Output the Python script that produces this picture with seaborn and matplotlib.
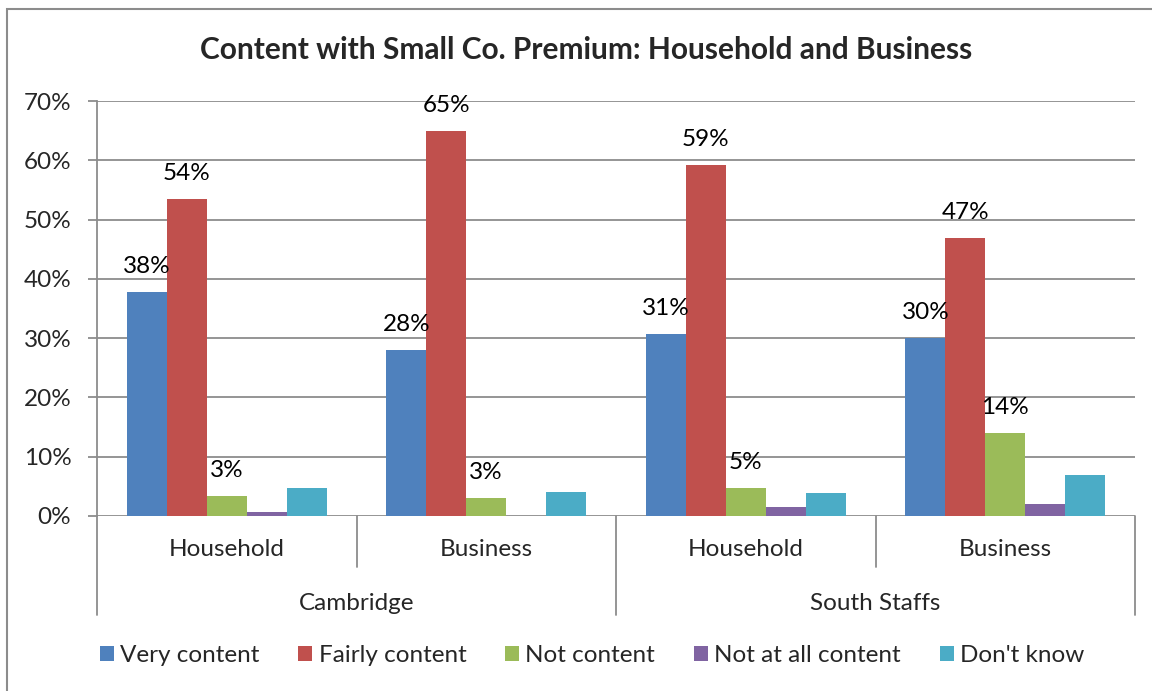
import matplotlib
matplotlib.use("Agg")
import matplotlib.pyplot as plt
from matplotlib.patches import Rectangle, Patch
import seaborn as sns
import pandas as pd

# Survey results: share of respondents by contentment level
regions = ["Cambridge", "South Staffs"]
segments = ["Household", "Business", "Household", "Business"]
series = ["Very content", "Fairly content", "Not content", "Not at all content", "Don't know"]
very_content = [0.378, 0.280, 0.307, 0.300]
fairly_content = [0.535, 0.649, 0.592, 0.469]
not_content = [0.034, 0.030, 0.047, 0.140]
not_at_all = [0.007, 0.000, 0.015, 0.020]
dont_know = [0.047, 0.040, 0.039, 0.069]
labels_very = ["38%", "28%", "31%", "30%"]
labels_fairly = ["54%", "65%", "59%", "47%"]
labels_not = ["3%", "3%", "5%", "14%"]
colors = ["#4F81BD", "#C0504D", "#9BBB59", "#8064A2", "#4BACC6"]

values = [very_content, fairly_content, not_content, not_at_all, dont_know]
group_ids = ["g0", "g1", "g2", "g3"]
rows = []
for s, vals in zip(series, values):
    for g, v in zip(group_ids, vals):
        rows.append({"group": g, "series": s, "value": v})
df = pd.DataFrame(rows)

sns.set_style("white")
plt.rcParams["font.family"] = ["Lato", "DejaVu Sans"]

FS = 17.5
W, H = 1152, 691
fig = plt.figure(figsize=(W / 100, H / 100), dpi=100)
ax = fig.add_axes([97 / W, 1 - 516 / H, (1135 - 97) / W, (516 - 101) / H])

sns.barplot(data=df, x="group", y="value", hue="series", hue_order=series,
            order=group_ids, palette=colors, saturation=1, width=0.77,
            linewidth=0, ax=ax, legend=False)

ax.set_xlim(-0.5, 3.5)
ax.set_ylim(0, 0.70)
ax.set_yticks([i / 10 for i in range(8)])
ax.set_yticklabels([f"{i * 10}%" for i in range(8)], fontsize=FS)
ax.set_xticks([])
ax.set_xlabel("")
ax.set_ylabel("")
grid_c = "#8C8C8C"
ax.grid(axis="y", color=grid_c, linewidth=1.3)
ax.set_axisbelow(True)
for side in ["top", "right", "bottom"]:
    ax.spines[side].set_visible(False)
ax.spines["left"].set_color(grid_c)
ax.spines["left"].set_linewidth(1.3)
ax.tick_params(axis="y", left=True, length=6.5, width=1.3, color=grid_c, pad=12)

# value labels on the first three series
for cont, labs in zip(ax.containers[:3], [labels_very, labels_fairly, labels_not]):
    for bar, lab in zip(cont, labs):
        ax.annotate(lab, (bar.get_x() + bar.get_width() / 2, bar.get_height()),
                    xytext=(0, 13.5), textcoords="offset points",
                    ha="center", va="baseline", fontsize=FS, color="black")

# two-level category axis
trans = ax.get_xaxis_transform()
ax_h = 516 - 101
for x, depth in [(-0.5, 99), (0.5, 51), (1.5, 99), (2.5, 51), (3.5, 99)]:
    ax.plot([x, x], [0, -depth / ax_h], transform=trans, color=grid_c,
            linewidth=1.3, clip_on=False)
for i, seg in enumerate(segments):
    ax.text(i, -34 / ax_h, seg, transform=trans, ha="center", va="center",
            fontsize=FS)
for j, reg in enumerate(regions):
    ax.text(0.5 + 2 * j, -87 / ax_h, reg, transform=trans, ha="center",
            va="center", fontsize=FS)

fig.text(586 / W, 1 - 50 / H, "Content with Small Co. Premium: Household and Business",
         ha="center", va="center", fontsize=21.5, fontweight="bold")

handles = [Patch(facecolor=c, edgecolor="none") for c in colors]
fig.legend(handles, series, loc="center", bbox_to_anchor=(592 / W, 1 - 656 / H),
           ncol=5, frameon=False, fontsize=FS, handlelength=0.58, handleheight=0.58,
           handletextpad=0.25, columnspacing=1.6)

# chart area border
fig.patches.append(Rectangle((7 / W, -0.05), 1.2, 1 - 9 / H + 0.05,
                             transform=fig.transFigure, fill=False,
                             edgecolor="#8C8C8C", linewidth=1.5))

fig.savefig("out.png", dpi=100)
